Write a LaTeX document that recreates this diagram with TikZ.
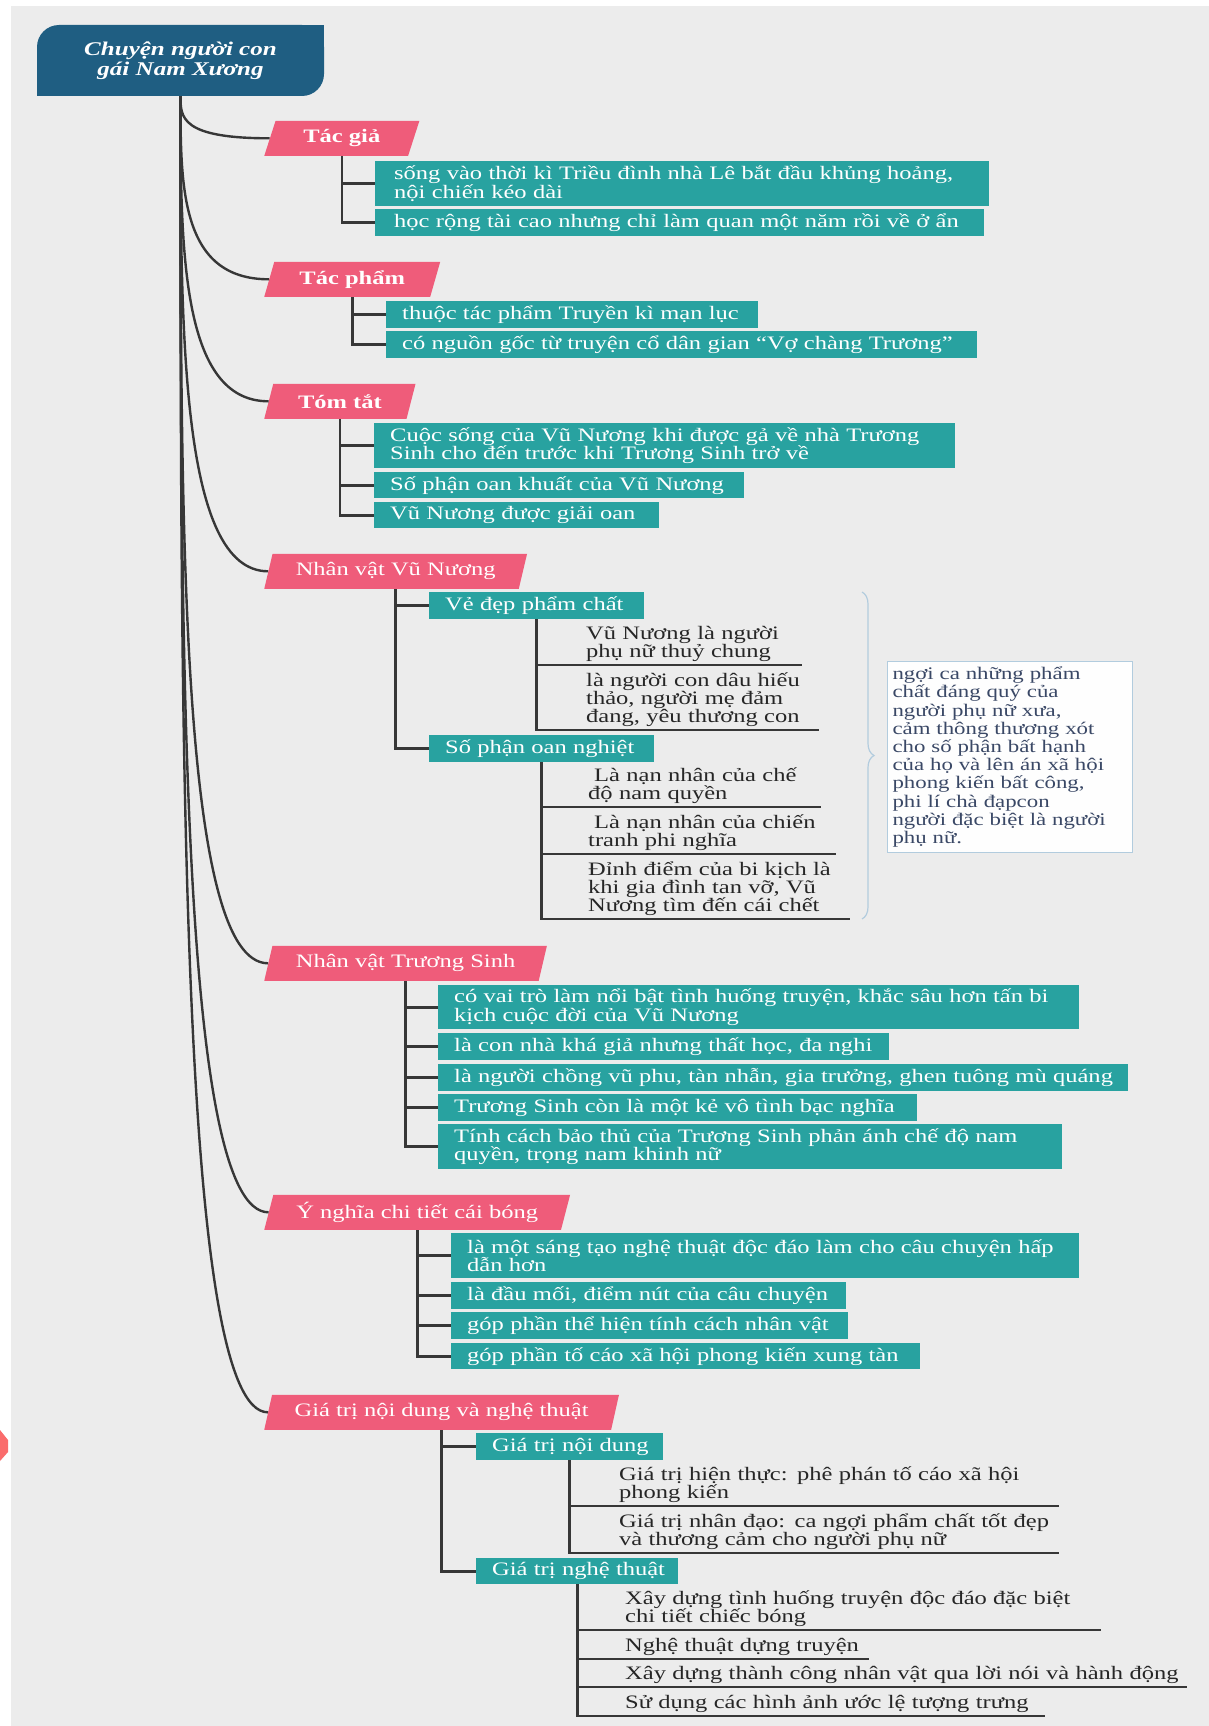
\documentclass[tikz,border=0pt]{standalone}
\usepackage{fontspec}
\setmainfont{Liberation Serif}[FakeStretch=1.29]
\usetikzlibrary{shapes.geometric,decorations.pathreplacing,calc}
\definecolor{paper}{RGB}{236,236,236}
\definecolor{rootblue}{RGB}{31,94,130}
\definecolor{topicpink}{RGB}{239,92,122}
\definecolor{factteal}{RGB}{40,162,160}
\definecolor{linegray}{RGB}{55,55,55}
\definecolor{notetext}{RGB}{58,72,102}
\definecolor{noteline}{RGB}{178,204,222}
\definecolor{cornerred}{RGB}{250,108,108}
\tikzset{
  mapfont/.style={font=\fontsize{19}{18.3}\selectfont},
  topic/.style={trapezium, trapezium left angle=74, trapezium right angle=106,
    trapezium stretches=true, fill=topicpink, text=white, minimum height=35pt,
    inner xsep=2pt, anchor=bottom left corner, mapfont},
  fact/.style 2 args={anchor=north west, fill=factteal, text=white, align=left,
    inner xsep=16pt, inner ysep=0pt, text width=#1, minimum height=#2, mapfont},
  subfact/.style 2 args={fact={#1}{#2}, inner xsep=10pt},
  leaf/.style={anchor=south west, align=left, inner xsep=0pt, inner ysep=3pt,
    text=black!85, text width=#1, mapfont},
  link/.style={draw=linegray, line width=2.6pt},
  trunk/.style={draw=linegray, line width=2.4pt},
}
\begin{document}
\begin{tikzpicture}[x=1pt, y=-1pt]
\useasboundingbox (0,0) rectangle (1209,1726);
\fill[white] (0,0) rectangle (1209,1726);
\fill[paper] (11,6) rectangle (1209,1726);
\fill[cornerred] (0,1430) -- (8,1440) -- (8,1452) -- (0,1461) -- cycle;

% root
\fill[rootblue, rounded corners=22pt] (37,25) rectangle (324,96);
\fill[rootblue] (294,25) rectangle (324,55);
\fill[rootblue] (37,66) rectangle (67,96);
\node[text=white, align=center, minimum width=287pt, minimum height=71pt,
      font=\fontsize{19.4}{19.5}\selectfont\bfseries\itshape] (root) at (180.5,60.5)
      {Chuyện người con\\gái Nam Xương};

% main topics
\node[topic, minimum width=156pt, font=\fontsize{19}{18.3}\selectfont\bfseries] (tg) at (264,156) {Tác giả};
\node[topic, minimum width=176pt, font=\fontsize{19}{18.3}\selectfont\bfseries] (tp) at (264,297) {Tác phẩm};
\node[topic, minimum width=152pt, font=\fontsize{19}{18.3}\selectfont\bfseries] (tt) at (264,419) {Tóm tắt};
\node[topic, minimum width=263pt] (vn) at (264,589) {Nhân vật Vũ Nương};
\node[topic, minimum width=283pt] (ts) at (264,981) {Nhân vật Trương Sinh};
\node[topic, minimum width=307pt] (yn) at (264,1230) {Ý nghĩa chi tiết cái bóng};
\node[topic, minimum width=355pt] (gt) at (264,1430) {Giá trị nội dung và nghệ thuật};

\draw[trunk] (root.south) .. controls ($(root.south)!.5!(root.south|-tg.west)$) and (root.south|-tg.west) .. (tg.west);
\draw[trunk] (root.south) .. controls ($(root.south)!.5!(root.south|-tp.west)$) and (root.south|-tp.west) .. (tp.west);
\draw[trunk] (root.south) .. controls ($(root.south)!.5!(root.south|-tt.west)$) and (root.south|-tt.west) .. (tt.west);
\draw[trunk] (root.south) .. controls ($(root.south)!.5!(root.south|-vn.west)$) and (root.south|-vn.west) .. (vn.west);
\draw[trunk] (root.south) .. controls ($(root.south)!.5!(root.south|-ts.west)$) and (root.south|-ts.west) .. (ts.west);
\draw[trunk] (root.south) .. controls ($(root.south)!.5!(root.south|-yn.west)$) and (root.south|-yn.west) .. (yn.west);
\draw[trunk] (root.south) .. controls ($(root.south)!.5!(root.south|-gt.west)$) and (root.south|-gt.west) .. (gt.west);

% Tac gia
\node[fact={576pt}{45pt}, inner xsep=19pt] (tg1) at (375,161) {sống vào thời kì Triều đình nhà Lê bắt đầu khủng hoảng,\\nội chiến kéo dài};
\node[fact={571pt}{27pt}, inner xsep=19pt] (tg2) at (375,209) {học rộng tài cao nhưng chỉ làm quan một năm rồi về ở ẩn};
\draw[link] (tg.south) |- (tg1.west);
\draw[link] (tg.south) |- (tg2.west);

% Tac pham
\node[fact={340pt}{27pt}] (tp1) at (386,301) {thuộc tác phẩm Truyền kì mạn lục};
\node[fact={559pt}{27pt}] (tp2) at (386,331) {có nguồn gốc từ truyện cổ dân gian “Vợ chàng Trương”};
\draw[link] (tp.south) |- (tp1.west);
\draw[link] (tp.south) |- (tp2.west);

% Tom tat
\node[fact={549pt}{45pt}] (tt1) at (374,423) {Cuộc sống của Vũ Nương khi được gả về nhà Trương\\Sinh cho đến trước khi Trương Sinh trở về};
\node[fact={338pt}{26pt}] (tt2) at (374,472) {Số phận oan khuất của Vũ Nương};
\node[fact={253pt}{26pt}] (tt3) at (374,502) {Vũ Nương được giải oan};
\draw[link] (tt.south) |- (tt1.west);
\draw[link] (tt.south) |- (tt2.west);
\draw[link] (tt.south) |- (tt3.west);

% Nhan vat Vu Nuong
\node[subfact={195pt}{27pt}] (vd) at (429,592) {\hspace*{6pt}Vẻ đẹp phẩm chất};
\node[subfact={205pt}{27pt}] (sp) at (429,735) {\hspace*{6pt}Số phận oan nghiệt};
\draw[link] (vn.south) |- (vd.west);
\draw[link] (vn.south) |- (sp.west);
\node[leaf=216pt] (vd1) at (586,665) {Vũ Nương là người\\phụ nữ thuỷ chung};
\node[leaf=233pt] (vd2) at (586,730) {là người con dâu hiếu\\thảo, người mẹ đảm\\đang, yêu thương con};
\draw[link] (vd.south) |- (vd1.south east);
\draw[link] (vd.south) |- (vd2.south east);
\node[leaf=233pt] (sp1) at (588,807) {\hspace*{6pt}Là nạn nhân của chế\\độ nam quyền};
\node[leaf=248pt] (sp2) at (588,854) {\hspace*{6pt}Là nạn nhân của chiến\\tranh phi nghĩa};
\node[leaf=262pt] (sp3) at (588,919) {Đỉnh điểm của bi kịch là\\khi gia đình tan vỡ, Vũ\\Nương tìm đến cái chết};
\draw[link] (sp.south) |- (sp1.south east);
\draw[link] (sp.south) |- (sp2.south east);
\draw[link] (sp.south) |- (sp3.south east);
\draw[draw=noteline, line width=1.2pt, decorate, decoration={brace, amplitude=12pt}]
  ([xshift=862pt]vd.north -| 0,0) -- ([xshift=862pt]sp3.south -| 0,0);
\node[anchor=north west, draw=noteline, line width=1pt, fill=white!96!paper,
      text=notetext, align=left, text width=235pt, inner xsep=5pt,
      minimum height=191pt, font=\fontsize{17.7}{18.2}\selectfont] (nt) at (887,661)
  {ngợi ca những phẩm\\chất đáng quý của\\người phụ nữ xưa,\\cảm thông thương xót\\cho số phận bất hạnh\\của họ và lên án xã hội\\phong kiến bất công,\\phi lí chà đạpcon\\người đặc biệt là người\\phụ nữ.};

% Nhan vat Truong Sinh
\node[fact={609pt}{44pt}] (ts1) at (438,985) {có vai trò làm nổi bật tình huống truyện, khắc sâu hơn tấn bi\\kịch cuộc đời của Vũ Nương};
\node[fact={419pt}{27pt}] (ts2) at (438,1033) {là con nhà khá giả nhưng thất học, đa nghi};
\node[fact={664pt}{27pt}, inner xsep=13pt] (ts3) at (438,1064) {\hspace*{3pt}là người chồng vũ phu, tàn nhẫn, gia trưởng, ghen tuông mù quáng};
\node[fact={447pt}{27pt}] (ts4) at (438,1094) {Trương Sinh còn là một kẻ vô tình bạc nghĩa};
\node[fact={592pt}{45pt}] (ts5) at (438,1124) {Tính cách bảo thủ của Trương Sinh phản ánh chế độ nam\\quyền, trọng nam khinh nữ};
\draw[link] (ts.south) |- (ts1.west);
\draw[link] (ts.south) |- (ts2.west);
\draw[link] (ts.south) |- (ts3.west);
\draw[link] (ts.south) |- (ts4.west);
\draw[link] (ts.south) |- (ts5.west);

% Y nghia chi tiet cai bong
\node[fact={596pt}{45pt}] (yn1) at (451,1233) {là một sáng tạo nghệ thuật độc đáo làm cho câu chuyện hấp\\dẫn hơn};
\node[fact={363pt}{27pt}] (yn2) at (451,1282) {là đầu mối, điểm nút của câu chuyện};
\node[fact={365pt}{27pt}] (yn3) at (451,1312) {góp phần thể hiện tính cách nhân vật};
\node[fact={437pt}{26pt}] (yn4) at (451,1343) {góp phần tố cáo xã hội phong kiến xung tàn};
\draw[link] (yn.south) |- (yn1.west);
\draw[link] (yn.south) |- (yn2.west);
\draw[link] (yn.south) |- (yn3.west);
\draw[link] (yn.south) |- (yn4.west);

% Gia tri noi dung va nghe thuat
\node[subfact={167pt}{27pt}] (gn) at (476,1433) {\hspace*{6pt}Giá trị nội dung};
\node[subfact={182pt}{26pt}] (gh) at (476,1558) {\hspace*{6pt}Giá trị nghệ thuật};
\draw[link] (gt.south) |- (gn.west);
\draw[link] (gt.south) |- (gh.west);
\node[leaf=440pt] (gn1) at (619,1506) {Giá trị hiện thực: phê phán tố cáo xã hội\\phong kiến};
\node[leaf=440pt] (gn2) at (619,1553) {Giá trị nhân đạo: ca ngợi phẩm chất tốt đẹp\\và thương cảm cho người phụ nữ};
\draw[link] (gn.south) |- (gn1.south east);
\draw[link] (gn.south) |- (gn2.south east);
\node[leaf=476pt] (gh1) at (625,1630) {Xây dựng tình huống truyện độc đáo đặc biệt\\chi tiết chiếc bóng};
\node[leaf=244pt] (gh2) at (625,1659) {Nghệ thuật dựng truyện};
\node[leaf=562pt] (gh3) at (625,1687) {Xây dựng thành công nhân vật qua lời nói và hành động};
\node[leaf=420pt] (gh4) at (625,1716) {Sử dụng các hình ảnh ước lệ tượng trưng};
\draw[link] (gh.south) |- (gh1.south east);
\draw[link] (gh.south) |- (gh2.south east);
\draw[link] (gh.south) |- (gh3.south east);
\draw[link] (gh.south) |- (gh4.south east);
\end{tikzpicture}
\end{document}
